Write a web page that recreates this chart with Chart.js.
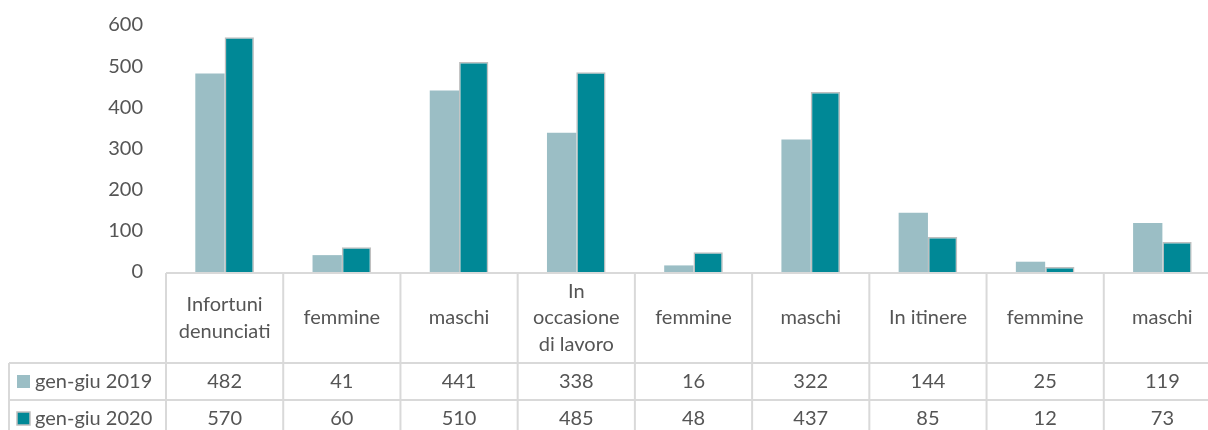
<!DOCTYPE html>
<html><head><meta charset="utf-8">
<script src="https://cdn.jsdelivr.net/npm/chart.js@4/dist/chart.umd.min.js"></script>
<style>
html,body{margin:0;padding:0;background:#fff;overflow:hidden;width:1208px;height:430px}
#wrap{width:1226px;height:430px;position:relative}
</style></head><body><div id="wrap"><canvas id="c" width="1226" height="430"></canvas></div>
<script>
const categories = [["Infortuni","denunciati"],"femmine","maschi",["In","occasione","di lavoro"],"femmine","maschi","In itinere","femmine","maschi"];
const seriesNames = ["gen-giu 2019","gen-giu 2020"];
const values2019 = [482,41,441,338,16,322,144,25,119];
const values2020 = [570,60,510,485,48,437,85,12,73];
const yMin = 0, yMax = 600, yStep = 100;

const FONT_FAMILY = 'Lato';
const FONT_SIZE = 20;
const TEXT = '#555555';
const GRID = '#d9d9d9';
const C2019 = '#9bbec5';
const C2020 = '#008896';
const B2020 = '#bfbfbf';

const tablePlugin = {
  id: 'dataTable',
  afterDraw(chart) {
    const ctx = chart.ctx, xs = chart.scales.x, area = chart.chartArea;
    const n = categories.length;
    const step = xs.getPixelForValue(1) - xs.getPixelForValue(0);
    const left = xs.getPixelForValue(0) - step / 2;
    const right = left + n * step;
    const top = area.bottom + 1;
    const hdrB = top + 90;
    const rowH = 37;
    const bottom = hdrB + 2 * rowH;
    const legL = 9;
    ctx.save();
    ctx.strokeStyle = GRID;
    ctx.lineWidth = 2;
    ctx.beginPath();
    ctx.moveTo(left, top); ctx.lineTo(right, top);
    [hdrB, hdrB + rowH, bottom].forEach(y => { ctx.moveTo(legL, y); ctx.lineTo(right, y); });
    for (let i = 0; i <= n; i++) {
      const x = left + i * step;
      ctx.moveTo(x, top); ctx.lineTo(x, bottom);
    }
    ctx.moveTo(legL, hdrB); ctx.lineTo(legL, bottom);
    ctx.stroke();

    ctx.fillStyle = TEXT;
    ctx.font = FONT_SIZE + 'px ' + FONT_FAMILY;
    ctx.textAlign = 'center';
    ctx.textBaseline = 'middle';
    const lh = 26.5;
    const hc = (top + hdrB) / 2;
    categories.forEach((c, i) => {
      const lines = Array.isArray(c) ? c : [c];
      const cx = xs.getPixelForValue(i);
      lines.forEach((t, j) => {
        ctx.fillText(t, cx, hc + (j - (lines.length - 1) / 2) * lh);
      });
    });
    const rows = [values2019, values2020];
    rows.forEach((vals, r) => {
      const cy = hdrB + rowH * r + rowH / 2;
      vals.forEach((v, i) => ctx.fillText(String(v), xs.getPixelForValue(i), cy));
    });
    const keyCols = [C2019, C2020];
    ctx.textAlign = 'left';
    seriesNames.forEach((s, r) => {
      const cy = hdrB + rowH * r + rowH / 2;
      ctx.fillStyle = keyCols[r];
      ctx.fillRect(17, cy - 6.5, 13, 13);
      if (r === 1) { ctx.strokeStyle = B2020; ctx.lineWidth = 1.5; ctx.strokeRect(17, cy - 6.5, 13, 13); }
      ctx.fillStyle = TEXT;
      ctx.fillText(s, 35, cy);
    });
    ctx.restore();
  }
};

new Chart(document.getElementById('c'), {
  type: 'bar',
  data: {
    labels: categories,
    datasets: [
      { label: seriesNames[0], data: values2019, backgroundColor: C2019, borderWidth: 0,
        categoryPercentage: 0.5, barPercentage: 1.0 },
      { label: seriesNames[1], data: values2020, backgroundColor: C2020, borderColor: B2020, borderWidth: 1.5,
        categoryPercentage: 0.5, barPercentage: 1.0 }
    ]
  },
  options: {
    responsive: false,
    devicePixelRatio: 1,
    animation: false,
    layout: { padding: { left: 0, right: 5, top: 25, bottom: 158 } },
    plugins: { legend: { display: false }, tooltip: { enabled: false } },
    scales: {
      x: { display: false },
      y: {
        min: yMin, max: yMax,
        grid: { display: false, drawTicks: false },
        border: { display: false },
        ticks: { stepSize: yStep, padding: 23, color: TEXT, font: { family: FONT_FAMILY, size: FONT_SIZE } },
        afterFit(scale) { scale.width = 166; scale.paddingTop = 0; scale.paddingBottom = 0; }
      }
    }
  },
  plugins: [tablePlugin]
});
</script></body></html>
